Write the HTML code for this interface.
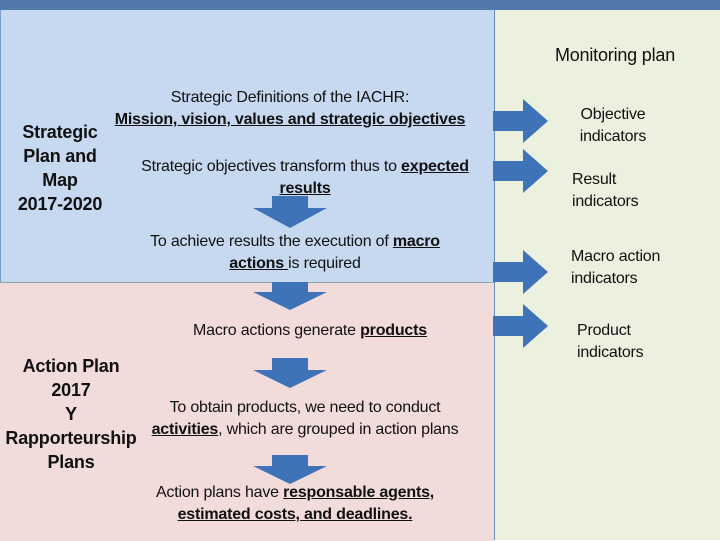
<!DOCTYPE html>
<html><head><style>
body{margin:0;width:720px;height:540px;position:relative;overflow:hidden;font-family:"Liberation Sans",sans-serif;}
div{position:absolute;}
.t{font-size:16px;color:#111;text-align:center;line-height:22px;letter-spacing:-0.2px;white-space:nowrap}
.b{font-weight:bold;font-size:18px}
u{font-weight:bold}
</style></head><body>
<div style="left:0;top:0;width:720px;height:10px;background:#5078a8"></div>
<div style="left:0;top:10px;width:494px;height:272px;background:#c6d9f0;border-left:1px solid #7a9cc8"></div>
<div style="left:0;top:282px;width:494px;height:258px;background:#f2dcdb;border-top:1px solid #8aa;"></div>
<div style="left:494px;top:10px;width:226px;height:530px;background:#ebf1de;border-left:1px solid #6a8ab8"></div>
<svg style="position:absolute;left:0;top:0" width="720" height="540">
<g fill="#3f73b8">
<polygon points="272,196 308,196 308,208 327,208 290,228 253,208 272,208"/>
<polygon points="272,282 308,282 308,292 327,292 290,310 253,292 272,292"/>
<polygon points="272,358 308,358 308,370 327,370 290,388 253,370 272,370"/>
<polygon points="272,455 308,455 308,466 327,466 290,484 253,466 272,466"/>
<polygon points="493,111 523,111 523,99 548,121 523,143 523,131 493,131"/>
<polygon points="493,161 523,161 523,149 548,171 523,193 523,181 493,181"/>
<polygon points="493,262 523,262 523,250 548,272 523,294 523,282 493,282"/>
<polygon points="493,316 523,316 523,304 548,326 523,348 523,336 493,336"/>
</g></svg>
<div class="t" style="left:520px;top:44px;width:190px;font-size:18px">Monitoring plan</div>
<div class="t b" style="left:0;top:120px;width:120px;line-height:24px">Strategic<br>Plan and<br>Map<br>2017-2020</div>
<div class="t" style="left:90px;top:87px;width:400px">Strategic Definitions of the IACHR:<br><u>Mission, vision, values and strategic objectives</u></div>
<div class="t" style="left:100px;top:156px;width:410px">Strategic objectives transform thus to <u>expected<br>results</u></div>
<div class="t" style="left:110px;top:231px;width:370px">To achieve results the execution of <u>macro<br>actions </u>is required</div>
<div class="t" style="left:110px;top:320px;width:400px">Macro actions generate <u>products</u></div>
<div class="t b" style="left:0;top:354px;width:142px;line-height:24px">Action Plan<br>2017<br>Y<br>Rapporteurship<br>Plans</div>
<div class="t" style="left:120px;top:397px;width:370px">To obtain products, we need to conduct<br><u>activities</u>, which are grouped in action plans</div>
<div class="t" style="left:110px;top:482px;width:370px">Action plans have <u>responsable agents,<br>estimated costs, and deadlines.</u></div>
<div class="t" style="left:553px;top:104px;width:120px">Objective<br>indicators</div>
<div class="t" style="left:572px;top:169px;width:80px;text-align:left">Result<br>indicators</div>
<div class="t" style="left:571px;top:246px;width:120px;text-align:left">Macro action<br>indicators</div>
<div class="t" style="left:577px;top:320px;width:120px;text-align:left">Product<br>indicators</div>
</body></html>
